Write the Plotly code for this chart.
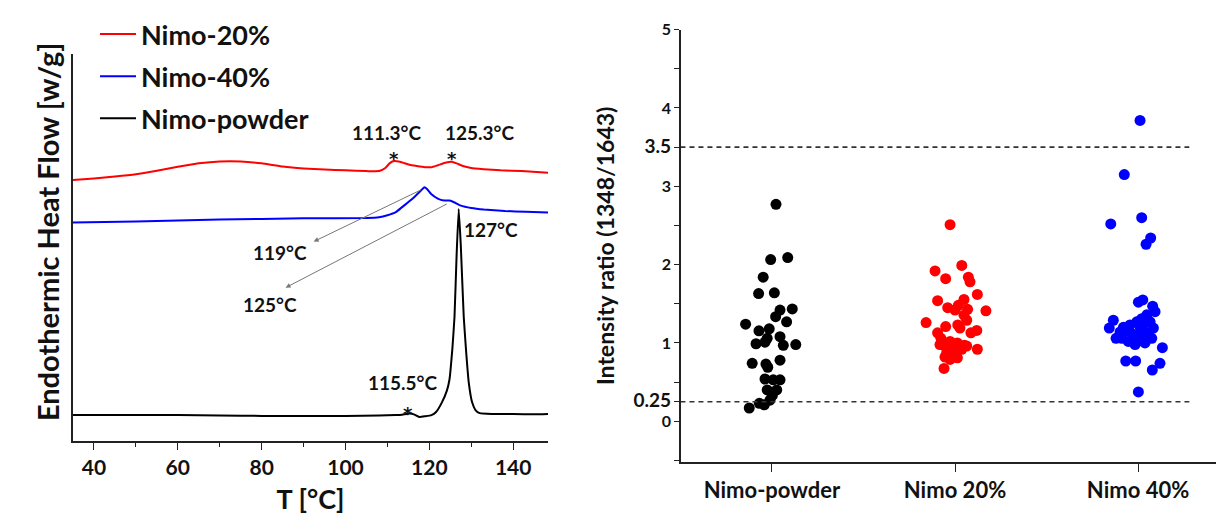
import plotly.graph_objects as go

# ---------------- Left panel: DSC curves ----------------
t_red = [35, 40, 45, 50, 55, 60, 65, 70, 75, 80, 85, 90, 95, 100, 105, 108, 109.5, 110.5, 111.5, 113,
         115, 117, 119, 120.5, 122, 124, 125.3, 126.5, 128, 130, 133, 137, 142, 148.3]
hf_red = [6.75, 6.79, 6.84, 6.90, 6.99, 7.09, 7.18, 7.23, 7.23, 7.18, 7.10, 7.05, 7.02, 7.00, 6.98, 6.98,
          7.06, 7.18, 7.24, 7.22, 7.15, 7.11, 7.08, 7.08, 7.13, 7.20, 7.22, 7.18, 7.11, 7.06, 7.03, 7.00,
          6.98, 6.94]

t_blue = [35, 50, 70, 90, 105, 108, 110, 112, 113.5, 115, 116.5, 118, 118.8, 119.5, 120.5, 122, 123.5,
          124.8, 126, 127.5, 130, 133, 138, 143, 148.3]
hf_blue = [5.65, 5.68, 5.73, 5.76, 5.77, 5.79, 5.84, 5.92, 6.05, 6.18, 6.32, 6.48, 6.56, 6.51, 6.38,
           6.27, 6.22, 6.22, 6.17, 6.09, 6.03, 5.99, 5.95, 5.93, 5.91]

t_black = [35, 45, 60, 70, 80, 90, 100, 108, 112, 113.5, 114.5, 115.3, 116.3, 117.6, 119, 120.5, 121.6,
           123, 124.2, 124.8, 125.5, 126, 126.5, 127, 127.5, 128.2, 128.8, 129.4, 130.2, 131, 132, 135,
           140, 145, 148.3]
hf_black = [0.68, 0.68, 0.68, 0.67, 0.66, 0.66, 0.66, 0.67, 0.68, 0.69, 0.71, 0.72, 0.70, 0.63, 0.65,
            0.68, 0.76, 1.01, 1.32, 1.60, 2.41, 3.22, 4.81, 6.00, 5.06, 3.22, 2.28, 1.52, 1.01, 0.81,
            0.73, 0.71, 0.71, 0.70, 0.71]

series_names = ["Nimo-20%", "Nimo-40%", "Nimo-powder"]

# ---------------- Right panel: intensity ratios ----------------
categories = ["Nimo-powder", "Nimo 20%", "Nimo 40%"]

powder_vals = [2.77, 2.065, 2.09, 1.84, 1.63, 1.64, 1.42, 1.435, 1.335, 1.27, 1.24, 1.155, 1.18, 1.06,
               1.08, 0.99, 1.01, 0.97, 0.98, 0.74, 0.73, 0.69, 0.78, 0.54, 0.53, 0.53, 0.40, 0.40, 0.33,
               0.23, 0.21, 0.27, 0.17]
powder_dx = [0.022, -0.007, 0.086, -0.048, -0.073, 0.013, 0.044, 0.111, 0.020, 0.080, -0.144, -0.071,
             -0.015, -0.026, 0.044, -0.087, -0.038, 0.062, 0.130, -0.108, -0.033, -0.023, 0.044, -0.038,
             0.007, 0.044, -0.026, 0.026, 0.002, -0.069, -0.042, -0.011, -0.124]

n20_vals = [2.51, 1.92, 1.99, 1.82, 1.84, 1.78, 1.62, 1.54, 1.555, 1.45, 1.48, 1.43, 1.41, 1.42, 1.355,
            1.29, 1.26, 1.23, 1.21, 1.19, 1.16, 1.13, 1.13, 1.06, 0.97, 1.02, 1.00, 0.97, 0.92, 0.88,
            0.885, 0.92, 0.79, 0.81, 0.675, 0.98, 0.93, 0.82, 0.96]
n20_dx = [-0.027, -0.109, 0.037, -0.051, 0.073, 0.082, 0.122, -0.095, 0.049, -0.040, 0.018, 0.069, 0.169,
          0.000, 0.049, 0.064, -0.158, 0.015, -0.051, 0.027, 0.119, 0.087, -0.095, -0.077, -0.060,
          -0.027, 0.013, 0.051, 0.122, -0.045, 0.000, 0.037, -0.027, 0.013, -0.060, -0.082, -0.013,
          -0.055, 0.064]

n40_vals = [3.84, 3.15, 2.60, 2.52, 2.34, 2.26, 1.52, 1.55, 1.47, 1.40, 1.29, 1.19, 1.06, 1.06, 1.23,
            1.27, 1.31, 1.36, 1.27, 1.19, 1.06, 1.00, 0.98, 1.10, 1.12, 1.16, 1.16, 1.04, 1.20, 1.20,
            1.12, 1.02, 0.94, 0.77, 0.77, 0.74, 0.655, 0.375, 1.14, 1.06, 1.03, 1.27]
n40_dx = [0.011, -0.075, 0.020, -0.149, 0.069, 0.044, 0.002, 0.026, 0.080, 0.093, -0.135, -0.157, -0.120,
          -0.089, -0.044, -0.007, 0.020, 0.048, 0.066, 0.084, 0.075, 0.038, -0.016, 0.002, -0.034,
          -0.062, 0.029, -0.026, 0.011, -0.080, 0.056, -0.053, 0.133, -0.067, -0.013, 0.120, 0.078,
          0.002, -0.098, -0.007, 0.020, 0.048]

thresholds = [3.5, 0.25]
y_tickvals = [-0.5, 0, 0.25, 0.5, 1, 1.5, 2, 2.5, 3, 3.5, 4, 4.5, 5]
y_ticktext = ["", "0", "<span style='font-size:19px'>0.25</span>", "", "1", "", "2", "", "3",
              "<span style='font-size:19px'>3.5</span>", "4", "", "5"]

FONT = "Lato"
fig = go.Figure()

line_colors = ["#ff0000", "#0000ff", "#000000"]
for name, tx, hy, col in zip(series_names, [t_red, t_blue, t_black], [hf_red, hf_blue, hf_black], line_colors):
    fig.add_trace(go.Scatter(x=tx, y=hy, mode="lines", name=name, legendgroup=name,
                             line=dict(color=col, width=2, shape="spline", smoothing=0.4),
                             xaxis="x", yaxis="y"))

dot_colors = ["#000000", "#ff0000", "#0000ff"]
for i, (vals, dx, col) in enumerate(zip([powder_vals, n20_vals, n40_vals],
                                          [powder_dx, n20_dx, n40_dx], dot_colors)):
    fig.add_trace(go.Scatter(x=[i + d for d in dx], y=vals, mode="markers", showlegend=False,
                             marker=dict(color=col, size=11, line=dict(width=0)),
                             xaxis="x2", yaxis="y2"))

for th in thresholds:
    fig.add_shape(type="line", xref="x2", yref="y2", x0=-0.5, x1=2.28, y0=th, y1=th,
                  line=dict(color="#333333", width=1.6, dash="5px,4px"))

# annotations on the DSC panel
ann_font = dict(family=FONT, size=19, color="#111111", weight="bold")
labels = [("111.3°C", 109.8, 7.97), ("125.3°C", 131.9, 7.97), ("127°C", 134.8, 5.47),
          ("119°C", 84.3, 4.89), ("125°C", 82.1, 3.54), ("115.5°C", 113.6, 1.52)]
for txt, x, y in labels:
    fig.add_annotation(x=x, y=y, xref="x", yref="y", text=txt, showarrow=False, font=ann_font)
for x, y in [(111.6, 7.30), (125.5, 7.30), (115.0, 0.72)]:
    fig.add_annotation(x=x, y=y, xref="x", yref="y", text="*", showarrow=False,
                       font=dict(family="DejaVu Sans", size=18, color="#111111", weight="bold"))
for (hx, hy, tx, ty) in [(92.4, 5.16, 118.3, 6.51), (85.7, 3.97, 124.5, 6.15)]:
    fig.add_annotation(x=hx, y=hy, xref="x", yref="y", ax=tx, ay=ty, axref="x", ayref="y",
                       text="", showarrow=True, arrowhead=2, arrowsize=1, arrowwidth=1,
                       arrowcolor="#777777")

# left y-axis title (placed to match the reference's vertical offset)
fig.add_annotation(x=28 / 1216, y=1 - 227 / 515, xref="paper", yref="paper",
                   text="Endothermic Heat Flow [w/g]", textangle=-90, showarrow=False,
                   font=dict(family=FONT, size=29, color="#111111", weight="bold"))

fig.update_layout(
    width=1216, height=515,
    margin=dict(l=0, r=0, t=0, b=0),
    paper_bgcolor="white", plot_bgcolor="white",
    font=dict(family=FONT, color="#111111"),
    showlegend=True,
    legend=dict(x=95 / 1216, y=1.0, xanchor="left", yanchor="top",
                bgcolor="rgba(0,0,0,0)", tracegroupgap=4, itemwidth=36,
                font=dict(family=FONT, size=27, color="#111111", weight="bold")),
    xaxis=dict(domain=[73 / 1216, 548 / 1216], range=[35, 148.3], anchor="y",
               showline=True, linecolor="#222222", linewidth=1.5, showgrid=False, zeroline=False,
               tickmode="array", tickvals=[40, 60, 80, 100, 120, 140], ticks="outside", ticklen=7,
               tickwidth=1.2, tickcolor="#222222",
               minor=dict(tickvals=[50, 70, 90, 110, 130], ticks="outside", ticklen=4, tickwidth=1.2,
                          tickcolor="#222222", showgrid=False),
               tickfont=dict(family=FONT, size=21, color="#111111", weight="bold"),
               title=dict(text="T [°C]", font=dict(family=FONT, size=27, color="#111111", weight="bold"),
                          standoff=12)),
    yaxis=dict(domain=[1 - 440 / 515, 1 - 45 / 515], range=[0, 10], anchor="x",
               showline=True, linecolor="#222222", linewidth=1.5, showgrid=False, zeroline=False,
               showticklabels=False, ticks=""),
    xaxis2=dict(domain=[681 / 1216, 1.0], range=[-0.497, 2.426], anchor="y2",
                showline=True, linecolor="#222222", linewidth=1.5, showgrid=False, zeroline=False,
                tickmode="array", tickvals=[0, 1, 2], ticktext=categories, ticks="outside", ticklen=8,
                tickwidth=1.2, tickcolor="#222222",
                tickfont=dict(family=FONT, size=22, color="#111111", weight="bold")),
    yaxis2=dict(domain=[1 - 461 / 515, 1 - 20 / 515], range=[-0.52, 5], anchor="x2",
                showline=True, linecolor="#222222", linewidth=1.5, showgrid=False, zeroline=False,
                tickmode="array", tickvals=y_tickvals, ticktext=y_ticktext, ticks="outside", ticklen=5,
                tickwidth=1.2, tickcolor="#222222",
                tickfont=dict(family=FONT, size=16, color="#111111", weight="bold"),
                title=dict(text="Intensity ratio (1348/1643)",
                           font=dict(family=FONT, size=23, color="#111111", weight="bold"), standoff=12)),
)

fig.write_html("out.html")
